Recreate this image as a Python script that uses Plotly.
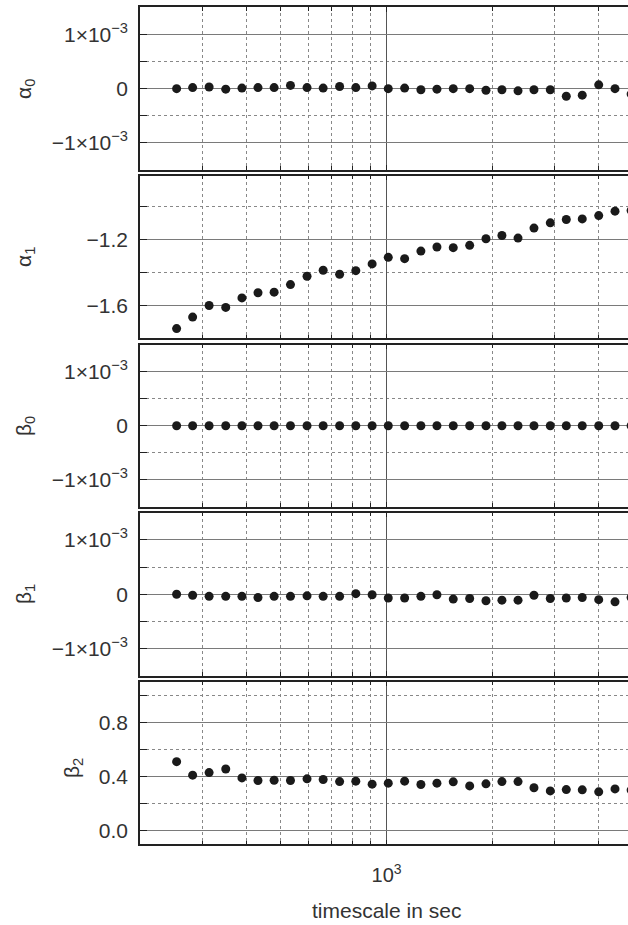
import math
import plotly.graph_objects as go

# ---------------- data ----------------
timescale = [254, 282, 314, 350, 389, 432, 480, 534, 595, 661, 736, 818, 910, 1011,
             1125, 1251, 1389, 1545, 1720, 1913, 2123, 2358, 2617, 2911, 3231, 3586,
             3993, 4441, 4933]

alpha0_e3 = [0.00, 0.02, 0.03, -0.01, 0.01, 0.02, 0.02, 0.06, 0.02, 0.01, 0.04, 0.02,
             0.05, 0.00, 0.01, -0.02, -0.01, 0.00, 0.00, -0.03, -0.02, -0.04, -0.02,
             -0.02, -0.14, -0.12, 0.07, 0.00, -0.10]

alpha1 = [-1.741, -1.671, -1.600, -1.612, -1.554, -1.523, -1.519, -1.473, -1.422,
          -1.386, -1.410, -1.388, -1.347, -1.307, -1.315, -1.269, -1.244, -1.248,
          -1.234, -1.194, -1.174, -1.190, -1.129, -1.097, -1.077, -1.073, -1.053,
          -1.026, -1.022]

beta0_e3 = [0.0, 0.0, 0.0, 0.0, 0.0, 0.0, 0.0, 0.0, 0.0, 0.0, 0.0, 0.0, 0.0, 0.0,
            0.0, 0.0, 0.0, 0.0, 0.0, 0.0, 0.0, 0.0, 0.0, 0.0, 0.0, 0.0, 0.0, 0.0, 0.0]

beta1_e3 = [0.00, -0.02, -0.04, -0.04, -0.04, -0.06, -0.04, -0.04, -0.03, -0.04,
            -0.04, 0.01, -0.01, -0.07, -0.07, -0.04, -0.01, -0.09, -0.08, -0.12,
            -0.11, -0.11, -0.02, -0.08, -0.07, -0.06, -0.10, -0.14, -0.06]

beta2 = [0.510, 0.410, 0.429, 0.456, 0.390, 0.371, 0.373, 0.371, 0.383, 0.378, 0.363,
         0.366, 0.344, 0.351, 0.366, 0.341, 0.351, 0.361, 0.331, 0.346, 0.363, 0.363,
         0.317, 0.294, 0.304, 0.302, 0.287, 0.309, 0.300]

panel_labels = ["α<sub>0</sub>", "α<sub>1</sub>", "β<sub>0</sub>", "β<sub>1</sub>", "β<sub>2</sub>"]
x_title = "timescale in sec"

sci_ticks = [-1e-3, 0, 1e-3]
sci_text = ["−1×10<sup>−3</sup>", "0", "1×10<sup>−3</sup>"]
sci_minor = [-0.5e-3, 0.5e-3]
a1_ticks = [-1.6, -1.2]
a1_text = ["−1.6", "−1.2"]
a1_minor = [-1.4, -1.0]
b2_ticks = [0.0, 0.4, 0.8]
b2_text = ["0.0", "0.4", "0.8"]
b2_minor = [0.2, 0.6, 1.0]
x_major = [1000]
x_major_text = ["10<sup>3</sup>"]
x_minor = [300, 400, 500, 600, 700, 800, 900, 2000, 3000, 4000]

# ---------------- layout geometry ----------------
W, H = 628, 925
L = 140
panels_px = [(7.3, 170), (175.7, 338.3), (344.7, 506.7), (512.7, 675.7), (681.7, 844.3)]
label_x_px = [25, 25, 25, 25, 73]
label_y_px = [89, 257, 426, 594, 768]

series = [
    [v * 1e-3 for v in alpha0_e3],
    alpha1,
    [v * 1e-3 for v in beta0_e3],
    [v * 1e-3 for v in beta1_e3],
    beta2,
]
yspecs = [
    ([-1.5e-3, 1.5e-3], sci_ticks, sci_text, sci_minor),
    ([-1.8, -0.81], a1_ticks, a1_text, a1_minor),
    ([-1.5e-3, 1.5e-3], sci_ticks, sci_text, sci_minor),
    ([-1.5e-3, 1.5e-3], sci_ticks, sci_text, sci_minor),
    ([-0.1, 1.1], b2_ticks, b2_text, b2_minor),
]

FONT = "Liberation Sans, Arial, sans-serif"
FRAME = "#222222"
GRID = "#7a7a7a"
MINOR = "#888888"

fig = go.Figure()
layout = dict(
    width=W, height=H,
    margin=dict(l=L, r=0, t=0, b=0),
    paper_bgcolor="white", plot_bgcolor="white",
    showlegend=False,
    font=dict(family=FONT, size=21, color="#333333"),
)

xr = [math.log10(200), 3.6843]
for i in range(5):
    n = "" if i == 0 else str(i + 1)
    top, bot = panels_px[i]
    fig.add_trace(go.Scatter(
        x=timescale, y=series[i], mode="markers",
        marker=dict(size=9, color="#1a1a1a"),
        xaxis="x" + n, yaxis="y" + n, cliponaxis=True,
    ))
    rng, tv, tt, mv = yspecs[i]
    layout["xaxis" + n] = dict(
        type="log", range=xr, anchor="y" + n, domain=[0, 1],
        tickmode="array", tickvals=x_major, ticktext=x_major_text,
        showticklabels=(i == 4),
        showgrid=True, gridcolor="#555555", gridwidth=1,
        showline=True, linecolor=FRAME, linewidth=1.5, mirror="ticks",
        ticks="inside", ticklen=5, tickcolor=FRAME, tickwidth=1,
        minor=dict(tickmode="array", tickvals=x_minor, showgrid=True,
                   gridcolor=MINOR, griddash="dot", gridwidth=1,
                   ticks="inside", ticklen=4, tickcolor=FRAME),
        zeroline=False, fixedrange=True,
        tickfont=dict(size=20),
        ticklabelstandoff=12,
        **({} if i == 0 else {"matches": "x"}),
    )
    layout["yaxis" + n] = dict(
        range=rng, anchor="x" + n,
        domain=[1 - bot / H, 1 - top / H],
        tickmode="array", tickvals=tv, ticktext=tt,
        showgrid=True, gridcolor=GRID, gridwidth=1,
        showline=True, linecolor=FRAME, linewidth=1.5, mirror=False,
        ticks="inside", ticklen=7, tickcolor=FRAME, tickwidth=1,
        minor=dict(tickmode="array", tickvals=mv, showgrid=True,
                   gridcolor=MINOR, griddash="dot", gridwidth=1,
                   ticks="inside", ticklen=7, tickcolor=FRAME),
        zeroline=False, fixedrange=True,
        ticklabelstandoff=6,
    )

annotations = []
for i in range(5):
    annotations.append(dict(
        text=panel_labels[i], xref="paper", yref="paper",
        x=(label_x_px[i] - L) / (W - L), y=1 - label_y_px[i] / H,
        xanchor="center", yanchor="middle", showarrow=False, textangle=-90,
        font=dict(size=21, color="#333333", family=FONT),
    ))
annotations.append(dict(
    text=x_title, xref="paper", yref="paper",
    x=(386 - L) / (W - L), y=1 - 910 / H,
    xanchor="center", yanchor="middle", showarrow=False,
    font=dict(size=21, color="#333333", family=FONT),
))
layout["annotations"] = annotations

fig.update_layout(**layout)
fig.write_html("out.html", config={"displayModeBar": False},
               post_script="document.body.style.margin='0';document.body.style.overflow='hidden';")
